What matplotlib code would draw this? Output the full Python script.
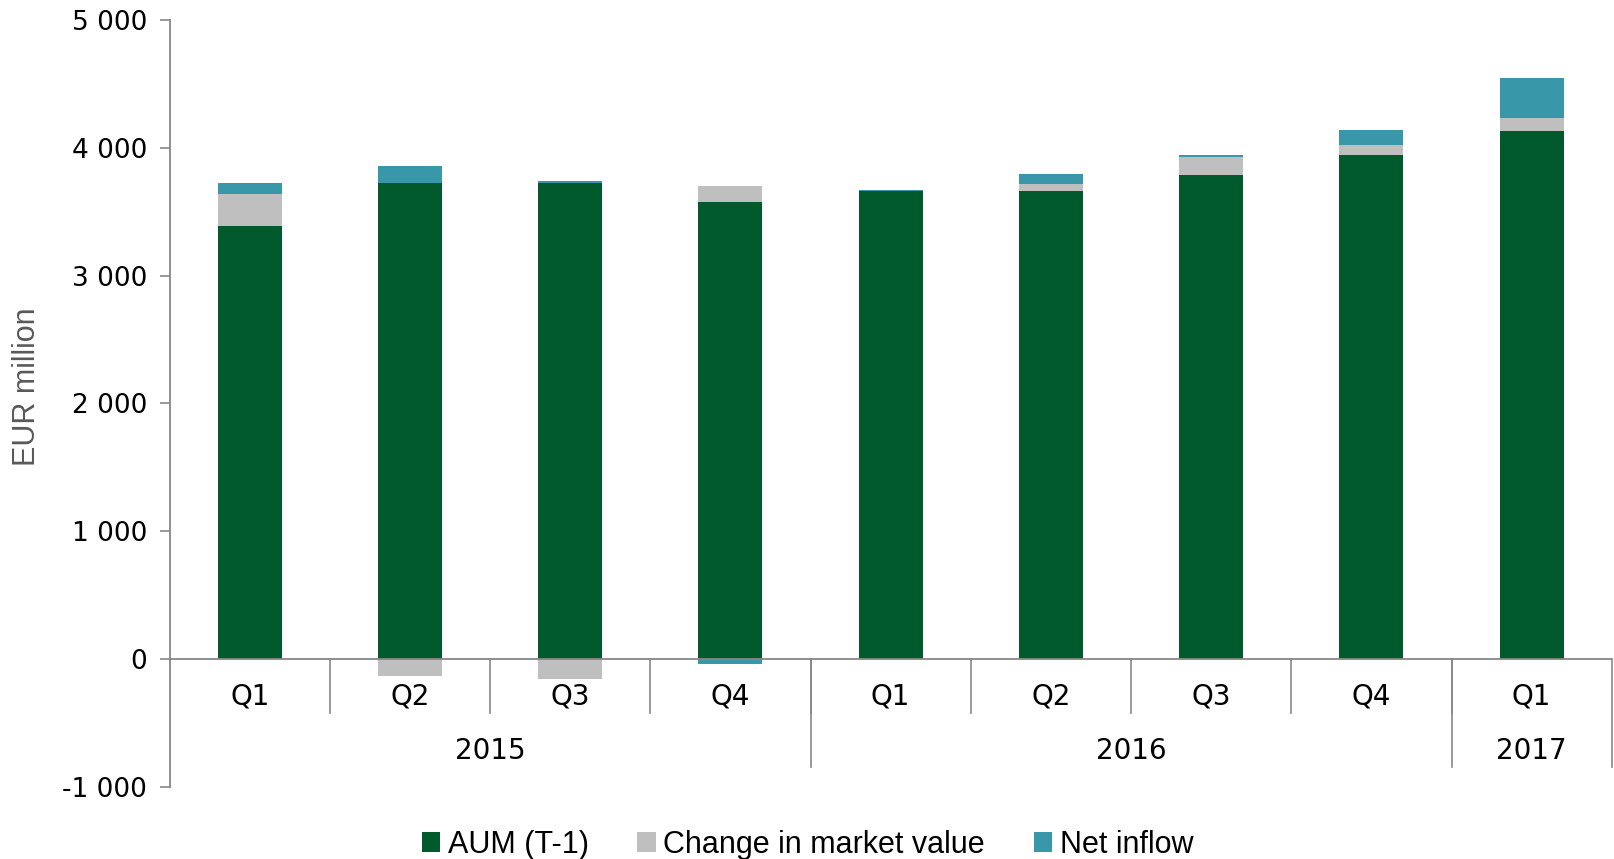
import matplotlib.pyplot as plt
import numpy as np

# data (EUR million)
quarters = ['Q1', 'Q2', 'Q3', 'Q4', 'Q1', 'Q2', 'Q3', 'Q4', 'Q1']
years = ['2015', '2016', '2017']
year_spans = [(0, 3), (4, 7), (8, 8)]
aum_prev = [3385, 3724, 3727, 3576, 3661, 3659, 3787, 3941, 4134]
market_change = [253, -130, -154, 122, 0, 55, 140, 78, 102]
net_inflow = [89, 131, 10, -37, 6, 78, 19, 117, 312]

series = [('AUM (T-1)', aum_prev, '#005A2B'),
          ('Change in market value', market_change, '#BFBFBF'),
          ('Net inflow', net_inflow, '#3897A8')]

plt.rcParams['font.family'] = ['DejaVu Sans']
narrow = ['Liberation Sans Narrow', 'Liberation Sans', 'DejaVu Sans']

fig = plt.figure(figsize=(16.15, 8.59), dpi=100)
ax = fig.add_axes([0.105, 0.0838, 0.893, 0.893])

x = np.arange(len(quarters))
pos_bottom = np.zeros(len(x))
neg_bottom = np.zeros(len(x))
for name, vals, col in series:
    vals = np.array(vals, dtype=float)
    bottoms = np.where(vals >= 0, pos_bottom, neg_bottom)
    ax.bar(x, vals, width=0.4, bottom=bottoms, color=col, label=name, zorder=2)
    pos_bottom += np.where(vals >= 0, vals, 0)
    neg_bottom += np.where(vals < 0, vals, 0)

ax.set_xlim(-0.5, len(x) - 0.5)
ax.set_ylim(-1000, 5000)
ax.set_yticks(range(-1000, 5001, 1000))
ax.set_yticklabels([f'{v:,}'.replace(',', ' ') for v in range(-1000, 5001, 1000)])
ax.tick_params(axis='y', labelsize=19, length=7, width=1.2, color='#878787', pad=9)
ax.set_xticks([])

for s in ['top', 'right', 'bottom']:
    ax.spines[s].set_visible(False)
ax.spines['left'].set_color('#878787')
ax.spines['left'].set_linewidth(1.3)

axis_col = '#878787'
ax.axhline(0, color=axis_col, lw=1.3, zorder=3)

# quarter separators and labels
for i in range(1, len(x)):
    ax.plot([i - 0.5, i - 0.5], [0, -422], color=axis_col, lw=1.2, clip_on=False)
for i, q in enumerate(quarters):
    ax.text(i, -290, q, ha='center', va='center', fontsize=20)

# year separators and labels
for (a, b), yr in zip(year_spans, years):
    ax.plot([b + 0.5, b + 0.5], [0, -845], color=axis_col, lw=1.2, clip_on=False)
    ax.text((a + b) / 2, -720, yr, ha='center', va='center', fontsize=20)

fig.text(0.017, 0.55, 'EUR million', rotation=90, ha='center', va='center',
         fontsize=22, color='#595959', family=narrow)

fig.legend(loc='lower center', bbox_to_anchor=(0.5, -0.033), ncol=3, frameon=False,
           handlelength=0.6, handleheight=0.6, handletextpad=0.25, columnspacing=1.6,
           prop={'family': narrow, 'size': 22})

fig.savefig('out.png', dpi=100)
